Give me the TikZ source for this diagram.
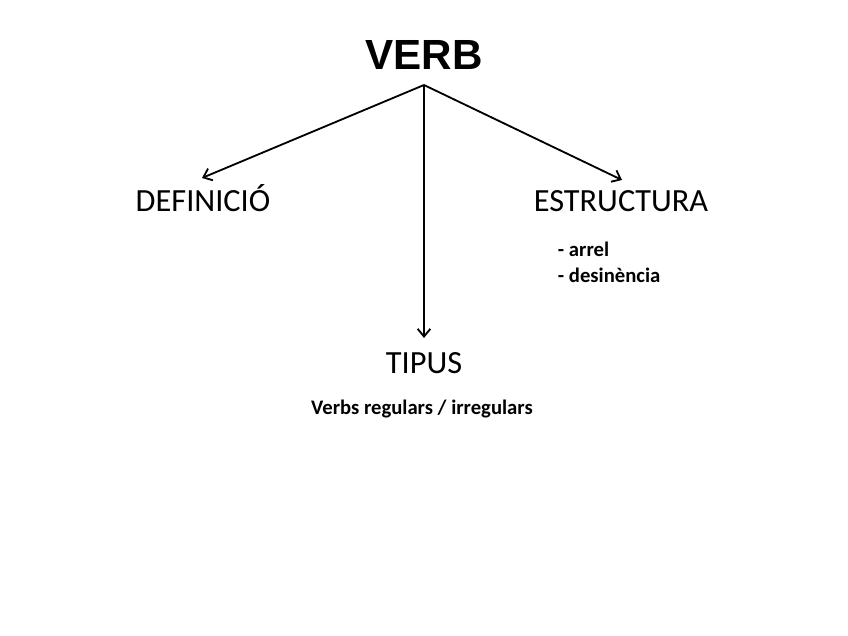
\documentclass[tikz,border=0pt]{standalone}
\usepackage{fontspec}
\setmainfont{Carlito}
\newfontfamily\arialfont{Liberation Sans}
\usetikzlibrary{arrows.meta}

\begin{document}
\begin{tikzpicture}[x=0.025cm, y=-0.025cm,
    title/.style={anchor=base, font=\arialfont\bfseries\fontsize{30}{36}\selectfont},
    branch/.style={anchor=base, font=\fontsize{23}{28}\selectfont},
    detail/.style={anchor=base, font=\bfseries\fontsize{14.7}{17}\selectfont},
    link/.style={-{Straight Barb[length=5.5pt,width=9pt]}, line width=1.3pt}]
    % Fix the page size
    \useasboundingbox (0,0) rectangle (848,636);

    % Draw the root
    \node[title] (verb) at (424,70) {VERB};
    \coordinate (root) at (424,85);

    % Draw the three branches
    \node[branch] (defin) at (203,212) {DEFINICIÓ};
    \node[branch] (estruct) at (621,212) {ESTRUCTURA};
    \node[branch] (tipus) at (424,373) {TIPUS};
    \coordinate (definEnd) at (202,178);
    \coordinate (estructEnd) at (622,180);
    \coordinate (tipusEnd) at (424,338);

    % Draw the details under the branches
    \node[detail, anchor=base west] (arrel) at (553,257) {- arrel};
    \node[detail, anchor=base west] (desin) at (553,283) {- desinència};
    \node[detail] (verbs) at (422,414) {Verbs regulars / irregulars};

    % Draw the arrows
    \draw[link] (root) -- (definEnd);
    \draw[link] (root) -- (estructEnd);
    \draw[link] (root) -- (tipusEnd);

\end{tikzpicture}
\end{document}
